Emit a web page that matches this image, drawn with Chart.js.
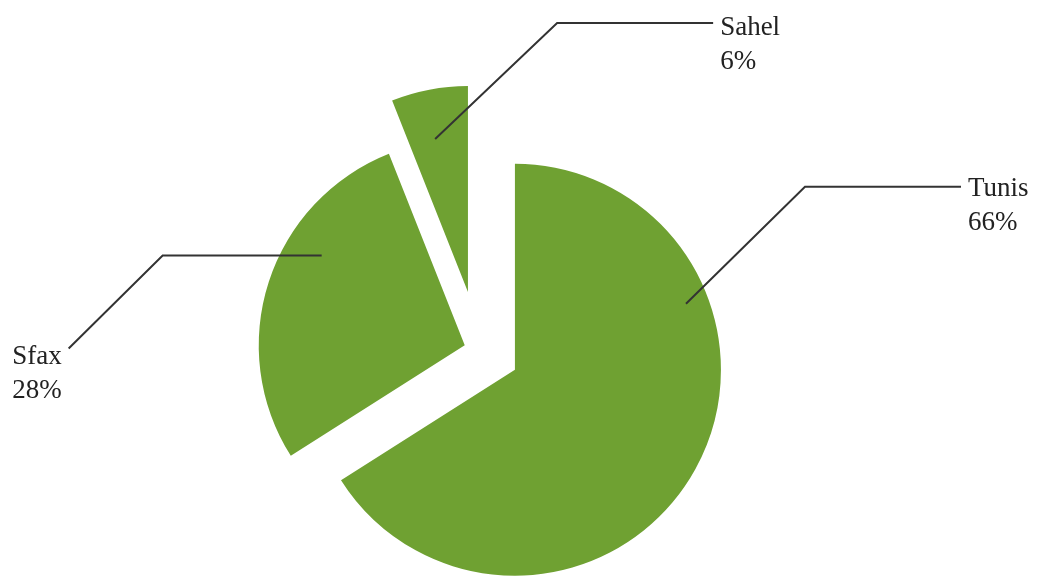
<!DOCTYPE html>
<html lang="fr">
<head>
  <meta charset="UTF-8">
  <title>Répartition par région</title>
  <script src="https://cdn.jsdelivr.net/npm/chart.js"></script>
  <style>
    body {
      margin: 0;
      padding: 0;
      background: #fff;
    }
    .chart-box {
      position: relative;
      width: 1041px;
      height: 577px;
    }
  </style>
</head>
<body>
  <div class="chart-box">
    <canvas id="regionPie"></canvas>
  </div>

  <script>
    // chart data
    const regions = ['Tunis', 'Sfax', 'Sahel'];
    const shares = [66, 28, 6];

    // how far each slice is pulled out of the pie (px)
    const sliceGap = [41, 15, 59];

    // leader lines: where they start inside the slice (fraction of the angle / radius),
    // then relative moves, then which side the text sits on
    const leaders = [
      { frac: 0.29, rf: 0.89, moves: [[119, -117], [156, 0]], side: 'right', dy: 9 },
      { frac: 0.64, rf: 0.82, moves: [[-159, 0], [-94, 93]], side: 'left', dy: 15 },
      { frac: 0.44, rf: 0.76, moves: [[122, -116], [156, 0]], side: 'right', dy: 12 }
    ];

    const green = '#6fa132';

    function slicePoint(arc, i, frac, rf) {
      const mid = (arc.startAngle + arc.endAngle) / 2;
      const a = arc.startAngle + frac * (arc.endAngle - arc.startAngle);
      const r = rf * arc.outerRadius;
      return {
        x: arc.x + Math.cos(mid) * sliceGap[i] + Math.cos(a) * r,
        y: arc.y + Math.sin(mid) * sliceGap[i] + Math.sin(a) * r
      };
    }

    // draw the slices pulled apart by a fixed distance (Chart.js offset also grows the radius)
    const explodePlugin = {
      id: 'explode',
      beforeDatasetDraw(chart, args) {
        const ctx = chart.ctx;
        args.meta.data.forEach((arc, i) => {
          const mid = (arc.startAngle + arc.endAngle) / 2;
          ctx.save();
          ctx.translate(Math.cos(mid) * sliceGap[i], Math.sin(mid) * sliceGap[i]);
          arc.draw(ctx);
          ctx.restore();
        });
        return false;
      }
    };

    const leaderPlugin = {
      id: 'leaders',
      afterDatasetsDraw(chart) {
        const ctx = chart.ctx;
        const arcs = chart.getDatasetMeta(0).data;
        ctx.save();
        arcs.forEach((arc, i) => {
          const l = leaders[i];
          let p = slicePoint(arc, i, l.frac, l.rf);
          ctx.beginPath();
          ctx.moveTo(p.x, p.y);
          l.moves.forEach(m => {
            p = { x: p.x + m[0], y: p.y + m[1] };
            ctx.lineTo(p.x, p.y);
          });
          ctx.strokeStyle = '#333';
          ctx.lineWidth = 2;
          ctx.stroke();

          ctx.fillStyle = '#222';
          ctx.font = '27px "Liberation Serif", serif';
          ctx.textBaseline = 'alphabetic';
          let tx;
          if (l.side === 'right') {
            ctx.textAlign = 'left';
            tx = p.x + 7;
          } else {
            ctx.textAlign = 'right';
            tx = p.x - 7;
          }
          ctx.fillText(regions[i], tx, p.y + l.dy);
          ctx.fillText(shares[i] + '%', tx, p.y + l.dy + 34);
        });
        ctx.restore();
      }
    };

    new Chart(document.getElementById('regionPie'), {
      type: 'pie',
      data: {
        labels: regions,
        datasets: [{
          data: shares,
          backgroundColor: green,
          borderWidth: 0
        }]
      },
      options: {
        responsive: true,
        maintainAspectRatio: false,
        animation: false,
        events: [],
        radius: 206,
        layout: {
          padding: { left: 0, right: 83, top: 123, bottom: 0 }
        },
        plugins: {
          legend: { display: false },
          tooltip: { enabled: false }
        }
      },
      plugins: [explodePlugin, leaderPlugin]
    });
  </script>
</body>
</html>
